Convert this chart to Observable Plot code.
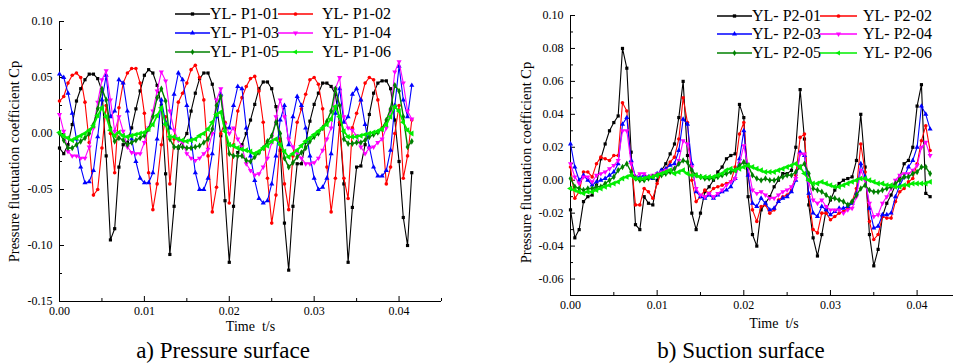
<!DOCTYPE html>
<html>
<head>
<meta charset="utf-8">
<script src="https://cdn.jsdelivr.net/npm/d3@7"></script>
<script src="https://cdn.jsdelivr.net/npm/@observablehq/plot@0.6"></script>
<style>
  body { margin: 0; background: #fff; }
  #wrap { position: relative; width: 956px; height: 363px; overflow: hidden; font-family: "Liberation Serif", "Times New Roman", serif; color: #000; }
  .panel { position: absolute; top: 0; }
  .cap { position: absolute; top: 339px; font-size: 23px; line-height: 23px; white-space: nowrap; transform: translateX(-50%); }
  .legtext { position: absolute; font-size: 16px; line-height: 16px; white-space: nowrap; }
</style>
</head>
<body>
<div id="wrap"></div>
<script>
// ---------------- data ----------------
const t = [0,0.0005,0.001,0.0015,0.002,0.0025,0.003,0.0035,0.004,0.0045,
  0.005,0.0055,0.006,0.0065,0.007,0.0075,0.008,0.0085,0.009,0.0095,
  0.01,0.0105,0.011,0.0115,0.012,0.0125,0.013,0.0135,0.014,0.0145,
  0.015,0.0155,0.016,0.0165,0.017,0.0175,0.018,0.0185,0.019,0.0195,
  0.02,0.0205,0.021,0.0215,0.022,0.0225,0.023,0.0235,0.024,0.0245,
  0.025,0.0255,0.026,0.0265,0.027,0.0275,0.028,0.0285,0.029,0.0295,
  0.03,0.0305,0.031,0.0315,0.032,0.0325,0.033,0.0335,0.034,0.0345,
  0.035,0.0355,0.036,0.0365,0.037,0.0375,0.038,0.0385,0.039,0.0395,
  0.04,0.0405,0.041,0.0415];

const P1_01 = [-0.013,-0.018,-0.010,0.008,0.029,0.040,0.048,0.053,0.053,0.049,
  0.038,-0.020,-0.095,-0.085,-0.030,-0.010,-0.008,0.005,0.022,0.038,
  0.052,0.057,0.054,0.043,0.025,-0.036,-0.108,-0.065,-0.013,-0.007,
  0.000,0.020,0.036,0.049,0.054,0.054,0.044,0.025,-0.002,-0.060,
  -0.115,-0.065,-0.017,-0.010,0.000,0.012,0.026,0.040,0.046,0.046,
  0.040,0.024,-0.015,-0.080,-0.122,-0.065,-0.027,-0.027,-0.008,0.011,
  0.026,0.036,0.045,0.045,0.042,0.035,0.008,-0.045,-0.115,-0.066,
  -0.030,-0.029,-0.010,0.017,0.036,0.045,0.047,0.047,0.040,0.012,
  -0.025,-0.075,-0.100,-0.035];
const P1_02 = [0.029,0.033,0.045,0.052,0.054,0.050,0.028,-0.008,-0.055,-0.050,
  -0.013,0.025,0.000,-0.035,0.023,0.045,0.054,0.058,0.058,0.045,
  0.018,-0.035,-0.068,-0.045,-0.010,0.015,-0.045,-0.005,0.028,0.036,
  0.045,0.057,0.061,0.050,0.030,-0.020,-0.070,-0.048,0.000,0.010,
  -0.062,-0.010,0.020,0.032,0.042,0.049,0.051,0.038,0.010,-0.040,
  -0.080,-0.055,-0.005,-0.045,-0.068,-0.020,0.010,0.022,0.035,0.048,
  0.050,0.044,0.022,-0.030,-0.070,-0.040,0.010,-0.040,-0.058,0.005,
  0.018,0.030,0.045,0.050,0.048,0.030,0.005,-0.045,-0.030,0.000,
  0.025,-0.040,-0.020,0.012];
const P1_03 = [0.053,0.050,0.036,0.018,-0.005,-0.030,-0.044,-0.043,-0.033,-0.003,
  0.030,0.052,0.015,0.020,0.048,0.045,0.020,-0.005,-0.025,-0.040,
  -0.044,-0.044,-0.035,-0.005,0.030,0.010,0.005,0.035,0.054,0.048,
  0.025,-0.005,-0.035,-0.050,-0.050,-0.040,-0.018,0.015,0.035,0.005,
  0.005,0.025,0.042,0.040,0.005,-0.020,-0.042,-0.058,-0.062,-0.060,
  -0.045,-0.020,0.012,0.025,-0.010,0.015,0.033,0.025,0.005,-0.020,
  -0.040,-0.050,-0.048,-0.040,-0.018,0.018,0.040,0.010,0.015,0.035,
  0.040,0.030,0.008,-0.012,-0.030,-0.038,-0.038,-0.033,-0.015,0.025,
  0.060,0.030,0.015,0.043];
const P1_04 = [0.017,0.002,-0.016,-0.020,-0.020,-0.022,-0.022,-0.012,0.005,0.028,
  0.048,0.056,0.030,0.002,0.015,0.002,-0.012,-0.017,-0.018,-0.018,
  -0.008,0.005,0.020,0.038,0.055,0.047,0.020,0.003,-0.006,-0.008,
  -0.018,-0.022,-0.024,-0.022,-0.018,-0.014,0.000,0.030,0.040,0.008,
  0.000,0.005,-0.005,-0.012,-0.027,-0.033,-0.037,-0.036,-0.030,-0.022,
  -0.008,0.015,0.030,0.015,-0.005,-0.012,-0.018,-0.022,-0.027,-0.027,
  -0.026,-0.022,-0.015,-0.005,0.005,0.040,0.050,0.015,0.005,0.003,
  -0.002,-0.012,-0.018,-0.013,-0.012,-0.008,-0.005,0.005,0.020,0.055,
  0.064,0.045,0.020,0.013];
const P1_05 = [0.000,-0.006,-0.013,-0.013,-0.010,-0.007,-0.004,0.000,0.008,0.022,
  0.040,0.030,0.005,-0.007,-0.004,-0.006,-0.010,-0.008,-0.006,-0.004,
  -0.002,0.004,0.015,0.032,0.040,0.029,-0.005,-0.012,-0.012,-0.012,
  -0.013,-0.013,-0.012,-0.011,-0.008,-0.005,0.004,0.025,0.033,0.005,
  -0.018,-0.020,-0.020,-0.020,-0.024,-0.025,-0.021,-0.017,-0.013,-0.007,
  -0.002,0.010,0.000,-0.022,-0.030,-0.026,-0.021,-0.017,-0.013,-0.007,
  -0.003,0.000,0.005,0.011,0.020,0.040,0.025,-0.005,-0.009,-0.009,
  -0.008,-0.008,-0.006,-0.003,-0.001,0.001,0.004,0.012,0.022,0.043,
  0.038,0.015,-0.012,-0.007];
const P1_06 = [0.001,-0.002,-0.004,-0.006,-0.004,-0.002,0.000,0.003,0.007,0.016,
  0.023,0.015,0.003,-0.002,0.001,-0.002,-0.003,-0.002,-0.001,0.000,
  0.001,0.004,0.008,0.016,0.023,0.008,-0.003,-0.003,-0.005,-0.006,
  -0.007,-0.006,-0.005,-0.002,0.000,0.004,0.010,0.017,0.019,0.002,
  -0.010,-0.011,-0.013,-0.014,-0.015,-0.016,-0.018,-0.016,-0.013,-0.011,
  -0.007,-0.005,-0.010,-0.016,-0.021,-0.018,-0.015,-0.011,-0.007,-0.004,
  -0.001,0.002,0.005,0.008,0.013,0.024,0.015,0.002,-0.003,-0.003,
  -0.003,-0.002,-0.001,0.000,0.001,0.002,0.004,0.008,0.015,0.024,
  0.020,0.010,0.003,0.000];

const P2_01 = [-0.018,-0.035,-0.030,-0.013,-0.010,-0.009,-0.003,0.013,0.022,0.030,
  0.035,0.039,0.080,0.068,0.017,-0.027,-0.030,-0.010,-0.014,-0.015,
  0.000,0.006,0.010,0.016,0.022,0.038,0.060,0.015,-0.020,-0.030,
  -0.020,-0.007,-0.004,0.000,0.005,0.008,0.013,0.015,0.016,0.046,
  0.038,-0.010,-0.033,-0.040,-0.018,-0.014,-0.010,-0.004,0.000,0.004,
  0.004,0.006,0.020,0.055,0.025,-0.015,-0.035,-0.046,-0.033,-0.018,
  -0.012,-0.006,-0.002,0.000,0.001,0.002,0.012,0.040,0.008,-0.033,
  -0.052,-0.042,-0.022,-0.014,-0.009,-0.003,0.002,0.010,0.012,0.020,
  0.045,0.058,-0.008,-0.010];
const P2_02 = [0.008,-0.011,-0.007,0.005,0.005,0.002,0.010,0.014,0.013,0.012,
  0.015,0.015,0.047,0.042,0.011,-0.015,-0.015,-0.005,-0.007,-0.011,
  -0.002,0.005,0.007,0.011,0.014,0.025,0.050,0.035,0.000,-0.013,
  -0.010,-0.006,-0.008,-0.005,-0.004,-0.003,-0.002,-0.001,0.008,0.028,
  0.035,0.003,-0.018,-0.025,-0.016,-0.015,-0.020,-0.018,-0.012,-0.010,
  -0.009,-0.006,0.003,0.026,0.028,-0.010,-0.030,-0.032,-0.020,-0.020,
  -0.024,-0.022,-0.020,-0.019,-0.017,-0.013,-0.005,0.022,0.005,-0.025,
  -0.036,-0.033,-0.022,-0.023,-0.023,-0.013,-0.007,-0.005,-0.001,0.001,
  0.010,0.024,0.033,0.018];
const P2_03 = [0.022,0.008,0.000,0.003,0.000,-0.003,-0.001,0.000,0.001,0.003,
  0.005,0.010,0.034,0.038,0.012,0.002,0.002,0.003,0.002,0.001,
  0.004,0.006,0.007,0.009,0.010,0.018,0.037,0.034,0.010,-0.007,
  -0.010,-0.011,-0.009,-0.011,-0.009,-0.007,-0.006,-0.004,0.001,0.013,
  0.030,0.003,-0.014,-0.016,-0.011,-0.014,-0.018,-0.017,-0.013,-0.011,
  -0.010,-0.007,0.000,0.017,0.015,-0.008,-0.020,-0.022,-0.016,-0.018,
  -0.021,-0.019,-0.017,-0.017,-0.016,-0.014,-0.008,0.010,0.002,-0.017,
  -0.029,-0.028,-0.021,-0.021,-0.020,-0.010,-0.003,0.002,0.008,0.012,
  0.020,0.045,0.040,0.031];
const P2_04 = [0.010,0.002,-0.002,0.002,0.002,-0.001,0.003,0.004,0.005,0.007,
  0.009,0.012,0.030,0.030,0.010,0.002,0.004,0.004,0.002,0.003,
  0.004,0.005,0.006,0.006,0.007,0.012,0.024,0.022,0.008,-0.005,
  -0.009,-0.010,-0.008,-0.010,-0.008,-0.006,-0.003,-0.001,0.001,0.010,
  0.021,0.008,-0.006,-0.008,-0.007,-0.009,-0.011,-0.011,-0.009,-0.007,
  -0.006,-0.004,0.001,0.016,0.016,-0.001,-0.012,-0.014,-0.012,-0.016,
  -0.018,-0.018,-0.018,-0.020,-0.018,-0.017,-0.010,0.006,0.000,-0.014,
  -0.022,-0.021,-0.014,-0.010,-0.005,0.000,0.003,0.004,0.004,0.006,
  0.009,0.020,0.023,0.015];
const P2_05 = [0.001,-0.004,-0.005,-0.006,-0.005,-0.005,-0.004,-0.004,-0.002,0.000,
  0.002,0.006,0.008,0.010,0.005,0.001,0.000,0.000,0.001,0.002,
  0.003,0.003,0.004,0.005,0.007,0.010,0.012,0.011,0.006,0.003,
  0.002,0.001,0.001,0.001,0.002,0.003,0.004,0.005,0.006,0.009,
  0.011,0.009,0.003,0.001,0.000,0.001,0.000,0.000,0.001,0.002,
  0.003,0.003,0.005,0.008,0.010,0.004,-0.005,-0.006,-0.007,-0.009,
  -0.011,-0.011,-0.012,-0.013,-0.015,-0.013,-0.009,-0.005,-0.003,-0.006,
  -0.007,-0.007,-0.006,-0.005,-0.004,-0.002,0.000,0.002,0.002,0.004,
  0.005,0.008,0.008,0.004];
const P2_06 = [-0.005,-0.006,-0.007,-0.008,-0.007,-0.007,-0.006,-0.005,-0.004,-0.003,
  -0.002,-0.001,0.001,0.002,0.003,0.001,0.001,0.001,0.002,0.002,
  0.003,0.004,0.005,0.006,0.004,0.005,0.006,0.004,0.003,0.003,
  0.002,0.002,0.002,0.002,0.003,0.004,0.006,0.007,0.006,0.007,
  0.008,0.009,0.008,0.007,0.006,0.005,0.005,0.005,0.006,0.007,
  0.008,0.009,0.010,0.008,0.004,0.000,-0.002,-0.002,-0.001,-0.002,
  -0.003,-0.004,-0.004,-0.003,-0.002,-0.001,0.000,0.001,0.001,0.000,
  -0.001,-0.002,-0.002,-0.003,-0.003,-0.004,-0.004,-0.003,-0.003,-0.002,
  -0.002,-0.002,-0.002,-0.001];

const namesP1 = ["YL- P1-01","YL- P1-02","YL- P1-03","YL- P1-04","YL- P1-05","YL- P1-06"];
const namesP2 = ["YL- P2-01","YL- P2-02","YL- P2-03","YL- P2-04","YL- P2-05","YL- P2-06"];
const colors = ["#000000","#ff0000","#0000ff","#ff00ff","#008000","#00ee00"];

const xTicks = [0, 0.01, 0.02, 0.03, 0.04];
const xMinorLeft = [0.005, 0.015, 0.025, 0.035, 0.045];
const xMinorRight = [0.005, 0.015, 0.025, 0.035];
const yTicksLeft = [-0.15, -0.10, -0.05, 0, 0.05, 0.10];
const yMinorLeft = [-0.125, -0.075, -0.025, 0.025, 0.075];
const yTicksRight = [-0.06, -0.04, -0.02, 0, 0.02, 0.04, 0.06, 0.08, 0.10];
const yMinorRight = [-0.05, -0.03, -0.01, 0.01, 0.03, 0.05, 0.07, 0.09];

const yTitle = "Pressure fluctuation coefficient Cp";
const xTitle = "Time\u00a0\u00a0t/s";
const captions = ["a) Pressure surface", "b) Suction surface"];

// ---------------- symbols ----------------
const s3 = Math.sqrt(3);
const triDown = { draw(c, size) { const y = -Math.sqrt(size / (s3 * 3)); c.moveTo(0, -y * 2); c.lineTo(-s3 * y, y); c.lineTo(s3 * y, y); c.closePath(); } };
const triLeft = { draw(c, size) { const y = -Math.sqrt(size / (s3 * 3)); c.moveTo(y * 2, 0); c.lineTo(-y, -s3 * y); c.lineTo(-y, s3 * y); c.closePath(); } };
const symbols = [d3.symbolSquare, d3.symbolCircle, d3.symbolTriangle, triDown, d3.symbolDiamond, triLeft];
const lineW = [1.1, 1.1, 1.1, 1.1, 1.4, 1.7];
const dotR = [1.8, 1.8, 1.9, 1.9, 2.0, 2.2];

const FONT = '"Liberation Serif", "Times New Roman", serif';
const fmt = d => d.toFixed(2);
const wrap = document.getElementById("wrap");

function makePanel(cfg) {
  const marks = [];
  marks.push(Plot.ruleX([cfg.xDomain[0]], {stroke: "#000", strokeWidth: 1}));
  marks.push(Plot.ruleY([cfg.yDomain[0]], {stroke: "#000", strokeWidth: 1}));
  marks.push(Plot.axisX(xTicks, {tickSize: -5, tickFormat: () => "", label: null}));
  marks.push(Plot.axisX(cfg.xMinor, {tickSize: -3, tickFormat: () => "", label: null}));
  marks.push(Plot.axisY(cfg.yTicks, {tickSize: -5, tickFormat: () => "", label: null}));
  marks.push(Plot.axisY(cfg.yMinor, {tickSize: -3, tickFormat: () => "", label: null}));
  marks.push(Plot.axisX(xTicks, {tickSize: 0, tickPadding: cfg.xPad, tickFormat: fmt, label: null, fontSize: 12, fontFamily: FONT}));
  marks.push(Plot.axisY(cfg.yTicks, {tickSize: 0, tickPadding: 7, tickFormat: fmt, label: null, fontSize: 12, fontFamily: FONT}));
  marks.push(Plot.text([cfg.xTitle], {frameAnchor: "bottom", textAnchor: "middle", dy: cfg.xTitleDy, dx: cfg.xTitleDx, fontSize: 14, fontFamily: FONT}));
  marks.push(Plot.text([cfg.yTitle], {frameAnchor: "left", textAnchor: "middle", rotate: -90, dx: cfg.yTitleDx, dy: cfg.yTitleDy, fontSize: 14.5, fontFamily: FONT}));
  cfg.series.forEach((vals, k) => {
    const rows = vals.map((v, i) => ({t: t[i], v}));
    marks.push(Plot.line(rows, {x: "t", y: "v", stroke: colors[k], strokeWidth: lineW[k]}));
    marks.push(Plot.dot(rows, {x: "t", y: "v", symbol: symbols[k], r: dotR[k], fill: colors[k], stroke: "none"}));
  });
  return Plot.plot({
    width: 478, height: 338,
    marginLeft: cfg.mL, marginRight: cfg.mR, marginTop: cfg.mT, marginBottom: cfg.mB,
    x: {domain: cfg.xDomain},
    y: {domain: cfg.yDomain},
    style: {fontFamily: FONT, fontSize: "12px", color: "#000", background: "transparent"},
    marks
  });
}

const left = makePanel({
  series: [P1_01, P1_02, P1_03, P1_04, P1_05, P1_06],
  xDomain: [0, 0.045], yDomain: [-0.15, 0.10],
  xMinor: xMinorLeft, yTicks: yTicksLeft, yMinor: yMinorLeft,
  mL: 59, mR: 37, mT: 21, mB: 37, xPad: 5,
  xTitle, yTitle, xTitleDy: 29, xTitleDx: 0, yTitleDx: -45, yTitleDy: 0
});
const right = makePanel({
  series: [P2_01, P2_02, P2_03, P2_04, P2_05, P2_06],
  xDomain: [0, 0.0442], yDomain: [-0.07, 0.10],
  xMinor: xMinorRight, yTicks: yTicksRight, yMinor: yMinorRight,
  mL: 92, mR: 3, mT: 15, mB: 43, xPad: 5,
  xTitle, yTitle, xTitleDy: 32, xTitleDx: 12, yTitleDx: -44, yTitleDy: 7
});

const d1 = document.createElement("div"); d1.className = "panel"; d1.style.left = "0px"; d1.appendChild(left); wrap.appendChild(d1);
const d2 = document.createElement("div"); d2.className = "panel"; d2.style.left = "478px"; d2.appendChild(right); wrap.appendChild(d2);

[[captions[0], 223], [captions[1], 741]].forEach(([txt, cx]) => {
  const c = document.createElement("div"); c.className = "cap"; c.style.left = cx + "px"; c.textContent = txt; wrap.appendChild(c);
});

function legend(names, layout) {
  names.forEach((name, k) => {
    const row = Math.floor(k / 2), col = k % 2;
    const cy = layout.rows[row];
    const lx = layout.lineX[col], lw = layout.lineW[col];
    const svg = d3.create("svg").attr("width", lw).attr("height", 10)
      .style("position", "absolute").style("left", lx + "px").style("top", (cy - 5) + "px");
    svg.append("line").attr("x1", 0).attr("x2", lw).attr("y1", 5).attr("y2", 5)
      .attr("stroke", colors[k]).attr("stroke-width", 1.4);
    svg.append("path").attr("d", d3.symbol(symbols[k], 11)())
      .attr("transform", `translate(${lw / 2},5)`).attr("fill", colors[k]);
    wrap.appendChild(svg.node());
    const s = document.createElement("div"); s.className = "legtext";
    s.style.left = layout.textX[col] + "px"; s.style.top = (cy - 8) + "px";
    s.textContent = name; wrap.appendChild(s);
  });
}
legend(namesP1, {rows: [14.3, 32.7, 51.5], lineX: [175, 278], lineW: [35, 35], textX: [210, 322]});
legend(namesP2, {rows: [15.7, 34, 52.7], lineX: [717, 820], lineW: [35, 37], textX: [752, 863]});
</script>
</body>
</html>
